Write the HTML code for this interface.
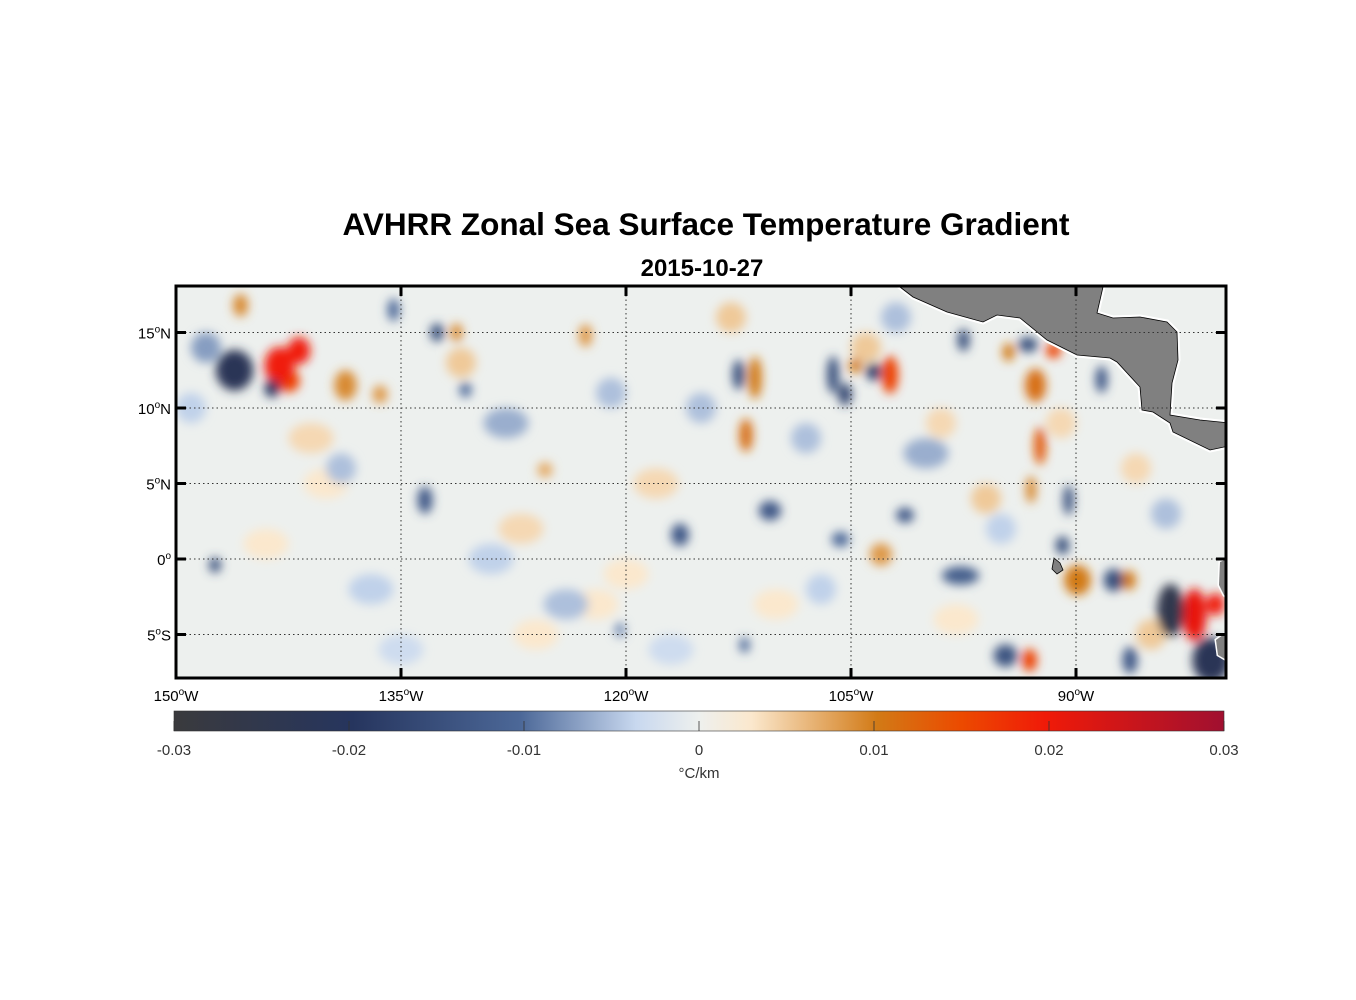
<!DOCTYPE html>
<html><head><meta charset="utf-8">
<style>
body{margin:0;background:#fff;font-family:"Liberation Sans",Arial,sans-serif;}
svg{display:block}
</style></head>
<body>
<svg id="chart" width="1356" height="1000" viewBox="0 0 1356 1000">
<defs>
<filter id="blur" x="-50%" y="-50%" width="200%" height="200%"><feGaussianBlur stdDeviation="5"/></filter>
<clipPath id="mapclip"><rect x="176" y="286" width="1050" height="392"/></clipPath>
<linearGradient id="cbgrad" x1="0" x2="1" y1="0" y2="0">
<stop offset="0" stop-color="#3a3a3d"/>
<stop offset="0.17" stop-color="#26355e"/>
<stop offset="0.33" stop-color="#4c6898"/>
<stop offset="0.44" stop-color="#c8d8ef"/>
<stop offset="0.5" stop-color="#eef0ee"/>
<stop offset="0.55" stop-color="#fbe8cd"/>
<stop offset="0.67" stop-color="#d27a16"/>
<stop offset="0.75" stop-color="#ec4a00"/>
<stop offset="0.83" stop-color="#f01a08"/>
<stop offset="1" stop-color="#a01030"/>
</linearGradient>
</defs>
<text x="706" y="235" text-anchor="middle" font-size="31.5" font-weight="bold">AVHRR Zonal Sea Surface Temperature Gradient</text>
<text x="702" y="276" text-anchor="middle" font-size="24" font-weight="bold">2015-10-27</text>
<g clip-path="url(#mapclip)">
<rect x="176" y="286" width="1050" height="392" fill="#edf0ee"/>
<g id="blobs" filter="url(#blur)"></g>
<polygon fill="#808080" stroke="#fff" stroke-width="5" paint-order="stroke" points="900,287 913,297 947,312 983,322 997,315 1020,318 1047,340 1077,355 1110,358 1117,362 1140,387 1142,410 1153,412 1170,423 1173,432 1210,450 1224,447 1230,447 1230,423 1200,420 1170,415 1172,383 1178,360 1177,332 1167,322 1140,317 1113,318 1097,313 1103,287 1103,280 900,280"/>
<polygon fill="#808080" stroke="#000" stroke-width="0.8" points="900,287 913,297 947,312 983,322 997,315 1020,318 1047,340 1077,355 1110,358 1117,362 1140,387 1142,410 1153,412 1170,423 1173,432 1210,450 1224,447 1230,447 1230,423 1200,420 1170,415 1172,383 1178,360 1177,332 1167,322 1140,317 1113,318 1097,313 1103,287 1103,280 900,280"/>
<polygon fill="#808080" stroke="#fff" stroke-width="3" paint-order="stroke" points="1230,558 1220,562 1219,585 1224,595 1230,600"/>
<polygon fill="#808080" stroke="#fff" stroke-width="3" paint-order="stroke" points="1230,630 1216,640 1218,655 1230,662"/>
<polygon fill="#808080" stroke="#000" stroke-width="0.8" points="1054,558 1060,563 1063,570 1057,574 1052,569"/>
<g id="grid" stroke="#333" stroke-width="1" stroke-dasharray="1.5,3"></g>
</g>
<g id="ticks"></g>
<rect x="176" y="286" width="1050" height="392" fill="none" stroke="#000" stroke-width="3"/>
<g id="labels" font-size="15"></g>
<rect x="174" y="711" width="1050" height="20" fill="url(#cbgrad)" stroke="#333" stroke-width="0.6"/>
<g id="cbticks" font-size="15"></g>
<text x="699" y="778" text-anchor="middle" font-size="15" fill="#333">°C/km</text>
</svg>
<script>
// data: blob anomalies (lon W, lat N, value °C/km, extent lon deg, extent lat deg)
const blobLon = [143.1,141.8,142.5,146.1,143.6,145.7,138.7,136.4,131.3,132.6,135.5,122.7,111.4,112.5,112,106.2,105.4,102.4,104.7,103.5,97.5,94.5,93.2,91.5,92.7,88.3,92.4,93,90.9,90.5,89.9,87.5,86.5,83.7,82.1,80.7,81,86.4,93.1,94.7,97.7,101.4,105.7,110.4,116.4,133.4,147.4,125.4,103,112.1,120.4,130.7,141,128,118,100,96,148,127,108,85,139,124,144,137,120,115,110,99,95,86,149,135,126,117,107,98,131,121,113,102,91,84,140,129,122,104];
const blobLat = [12.8,13.8,11.8,12.5,11.3,16.8,11.5,10.9,15,15,16.5,14.8,12,12.2,8.2,12.2,10.9,12.2,12.8,12.4,14.5,13.7,14.2,13.8,11.5,11.9,7.5,4.6,0.9,3.9,-1.4,-1.4,-1.4,-3.4,-3.7,-3,-6.7,-6.7,-6.7,-6.4,-1.1,2.9,1.3,3.2,1.6,3.9,-0.4,5.9,0.3,-5.7,-4.7,11.2,8,9,5,7,4,14,2,8,-5,6,-3,1,-2,-1,10,-3,9,2,6,10,-6,-5,-6,-2,-4,13,11,16,16,9,3,5,0,-3,14];
const blobVal = [0.02,0.02,0.016,-0.022,-0.02,0.009,0.009,0.008,0.009,-0.015,-0.01,0.008,0.01,-0.015,0.011,-0.015,-0.017,0.016,0.01,-0.018,-0.015,0.01,-0.015,0.016,0.011,-0.013,0.013,0.009,-0.015,-0.014,0.01,-0.015,0.01,-0.025,0.021,0.02,-0.022,-0.013,0.016,-0.014,-0.012,-0.013,-0.01,-0.013,-0.013,-0.013,-0.015,0.007,0.008,-0.01,-0.008,-0.01,0.004,-0.006,0.004,-0.006,0.005,-0.007,0.004,-0.005,0.005,-0.005,-0.005,0.003,-0.004,0.003,-0.005,0.003,0.004,-0.004,0.004,-0.004,-0.003,0.003,-0.003,-0.004,0.003,0.005,-0.005,0.005,-0.005,0.004,-0.005,0.003,-0.004,0.003,0.005];
const blobW = [2,1.5,1.5,2.5,1,1,1.5,1,0.8,0.9,0.8,0.9,0.9,0.8,0.9,0.8,0.9,1.1,0.9,1,0.8,0.8,1.3,1,1.4,0.8,0.8,0.7,0.9,0.7,1.8,1.3,1,1.8,1.6,1.2,2.5,1,1,1.6,2.5,1.2,1.2,1.5,1.2,1,0.8,1,1.5,0.7,0.7,0.8,3,3,3,3,2,2,3,2,2,2,3,3,3,3,2,3,2,2,2,2,3,3,3,2,3,2,2,2,2,2,2,3,3,3,2];
const blobH = [2.5,1.8,1.5,2.7,1.2,1.5,2,1.2,1.2,1.2,1.5,1.5,2.8,2,2.2,2.5,1.5,2.5,1,1.2,1.5,1.2,1,1,2.2,1.8,2.5,1.8,1.2,2,2,1.5,1.3,3.5,3.5,1.5,3,1.8,1.5,1.5,1.2,1,1,1.3,1.5,1.8,1,1,1.5,1,1,1,2,2,2,2,2,2,2,2,2,2,2,2,2,2,2,2,2,2,2,2,2,2,2,2,2,2,2,2,2,2,2,2,2,2,2];
const lonTicks = [150,135,120,105,90];
const latTicks = [15,10,5,0,-5];
const cbTicks = [-0.03,-0.02,-0.01,0,0.01,0.02,0.03];
const cbLabels = ["-0.03","-0.02","-0.01","0","0.01","0.02","0.03"];

const NS='http://www.w3.org/2000/svg';
const xOf = lonW => 176 + (150 - lonW) * 15;
const yOf = lat => 559 - lat * 15.1;
const cbX = v => 174 + (v + 0.03) / 0.06 * 1050;
const stops = [[-0.03,[58,58,61]],[-0.02,[38,53,94]],[-0.01,[76,104,152]],[-0.0036,[200,216,239]],[0,[238,240,238]],[0.003,[251,232,205]],[0.01,[210,122,22]],[0.015,[236,74,0]],[0.02,[240,26,8]],[0.03,[160,16,48]]];
function cmap(v){
  v=Math.max(-0.03,Math.min(0.03,v));
  for(let i=0;i<stops.length-1;i++){
    const [a,ca]=stops[i],[b,cb]=stops[i+1];
    if(v>=a&&v<=b){const t=(v-a)/(b-a);return 'rgb('+ca.map((c,k)=>Math.round(c+(cb[k]-c)*t)).join(',')+')';}
  }
  return 'rgb(238,240,238)';
}
function mk(tag,attrs,parent){const e=document.createElementNS(NS,tag);for(const k in attrs)e.setAttribute(k,attrs[k]);parent.appendChild(e);return e;}
const blobs=document.getElementById('blobs');
// draw faint ones first so strong anomalies sit on top
const order=blobVal.map((v,i)=>i).sort((a,b)=>Math.abs(blobVal[a])-Math.abs(blobVal[b]));
order.forEach(i=>{
  const e=mk('ellipse',{cx:xOf(blobLon[i]),cy:yOf(blobLat[i]),rx:blobW[i]*15/2,ry:blobH[i]*15.1/2,fill:cmap(blobVal[i])},blobs);
  
  
});
const grid=document.getElementById('grid'),ticks=document.getElementById('ticks'),labels=document.getElementById('labels');
lonTicks.forEach(l=>{
  const x=xOf(l);
  if(l!==150){const g=mk('line',{x1:x,x2:x,y1:286,y2:678},grid);
  
  }
  mk('rect',{x:x-1.5,y:286,width:3,height:10,fill:'#000'},ticks);
  mk('rect',{x:x-1.5,y:668,width:3,height:10,fill:'#000'},ticks);
  const t=mk('text',{x:x,y:701,'text-anchor':'middle'},labels);
  t.innerHTML=l+'<tspan dy="-6" font-size="10">o</tspan><tspan dy="6">W</tspan>';
  
  
});
latTicks.forEach(l=>{
  const y=yOf(l);
  const g=mk('line',{x1:176,x2:1226,y1:y,y2:y},grid);
  
  
  mk('rect',{x:176,y:y-1.5,width:10,height:3,fill:'#000'},ticks);
  mk('rect',{x:1216,y:y-1.5,width:10,height:3,fill:'#000'},ticks);
  const t=mk('text',{x:171,y:y+6,'text-anchor':'end'},labels);
  const hemi=l>0?'N':(l<0?'S':'');
  t.innerHTML=Math.abs(l)+'<tspan dy="-6" font-size="10">o</tspan><tspan dy="6">'+hemi+'</tspan>';
  
  
});
const cbt=document.getElementById('cbticks');
cbTicks.forEach((v,i)=>{
  const x=cbX(v);
  mk('line',{x1:x,x2:x,y1:721,y2:731,stroke:'#333','stroke-width':0.8},cbt);
  const t=mk('text',{x:x,y:755,'text-anchor':'middle',fill:'#333'},cbt);
  t.textContent=cbLabels[i];
  
  
});
</script>
</body></html>
